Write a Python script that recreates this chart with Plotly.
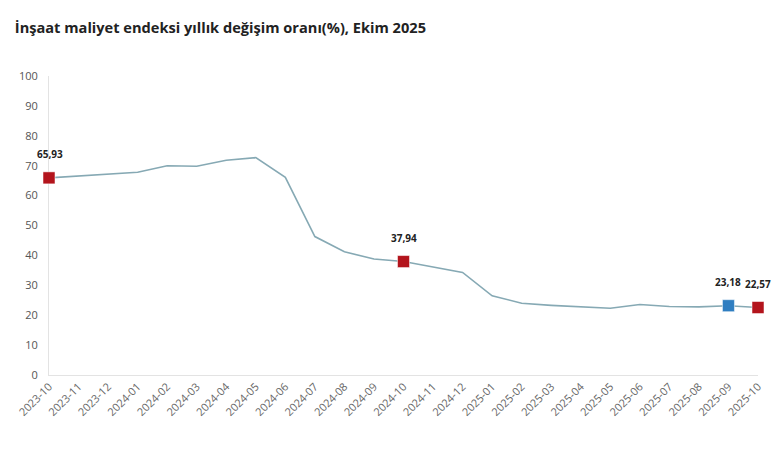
import plotly.graph_objects as go

# İnşaat maliyet endeksi yıllık değişim (%), 2023-10 .. 2025-10
aylar = ["2023-10", "2023-11", "2023-12", "2024-01", "2024-02", "2024-03",
         "2024-04", "2024-05", "2024-06", "2024-07", "2024-08", "2024-09",
         "2024-10", "2024-11", "2024-12", "2025-01", "2025-02", "2025-03",
         "2025-04", "2025-05", "2025-06", "2025-07", "2025-08", "2025-09",
         "2025-10"]
degisim = [65.93, 66.5, 67.2, 67.8, 70.0, 69.8, 71.8, 72.7, 66.1, 46.3,
           41.2, 38.8, 37.94, 36.1, 34.3, 26.5, 24.0, 23.3, 22.7, 22.3,
           23.6, 22.9, 22.8, 23.18, 22.57]
kirmizi_ay = ["2023-10", "2024-10", "2025-10"]
mavi_ay = ["2025-09"]

KIRMIZI, MAVI, CIZGI = "#b3141c", "#2f7ec1", "#86a9b4"
FONT = "Open Sans"

x = list(range(len(aylar)))
fig = go.Figure()
fig.add_trace(go.Scatter(x=x, y=degisim, mode="lines",
                         line=dict(color=CIZGI, width=1.6), hoverinfo="skip"))

def isaret(secili, renk):
    idx = [aylar.index(a) for a in secili]
    fig.add_trace(go.Scatter(
        x=idx, y=[degisim[i] for i in idx], mode="markers",
        marker=dict(symbol="square", size=12, color=renk,
                    line=dict(color="rgba(255,255,255,0.5)", width=1)),
        cliponaxis=False))
    for i in idx:
        fig.add_annotation(x=i, y=degisim[i], yshift=24, xshift=1 if i == 0 else 0,
                           text="<b>" + f"{degisim[i]:.2f}".replace(".", ",") + "</b>",
                           showarrow=False,
                           font=dict(family=FONT, size=10, color="#222"))

isaret(kirmizi_ay, KIRMIZI)
isaret(mavi_ay, MAVI)

fig.update_layout(
    width=780, height=470, showlegend=False,
    paper_bgcolor="white", plot_bgcolor="white",
    margin=dict(l=49, r=22, t=76, b=95),
    font=dict(family=FONT, size=11, color="#555"),
    title=dict(text="<b>İnşaat maliyet endeksi yıllık değişim oranı(%), Ekim 2025</b>",
               x=0.019, xanchor="left", y=0.94, yanchor="middle",
               font=dict(family=FONT, size=14.6, color="#222")),
)
fig.update_xaxes(range=[0, len(aylar) - 1], tickvals=x, ticktext=aylar,
                 tickangle=-45, showgrid=False, zeroline=False, automargin=False,
                 showline=True, linecolor="#e3e3e3", linewidth=1, layer="below traces",
                 tickfont=dict(size=11, color="#666"), ticks="")
fig.update_yaxes(range=[0, 100], dtick=10, showgrid=False, zeroline=False,
                 automargin=False, layer="below traces",
                 showline=True, linecolor="#e3e3e3", linewidth=1,
                 tickfont=dict(size=11, color="#555"), ticks="", ticklabelstandoff=8)

# tarayıcının varsayılan 8px gövde boşluğunu kaldır
fig.write_html("out.html", config={"displayModeBar": False},
               post_script="document.body.style.margin='0';")
